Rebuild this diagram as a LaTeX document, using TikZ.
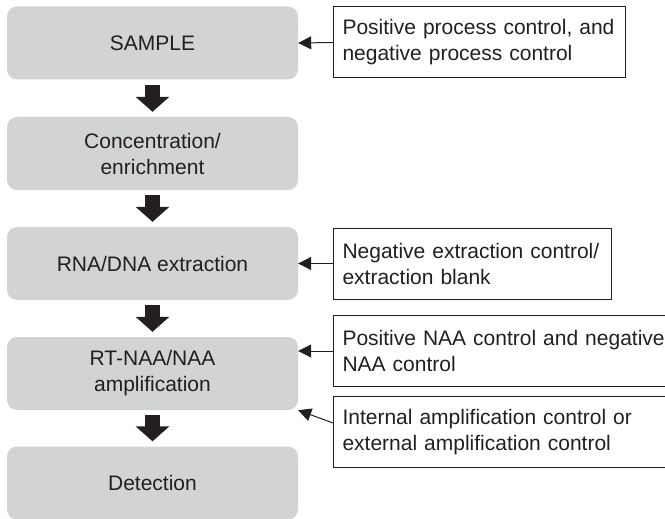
\documentclass[tikz,border=0pt]{standalone}
\usepackage{fontspec}
\setmainfont{Liberation Sans}
\usetikzlibrary{arrows.meta}
\definecolor{boxgray}{RGB}{209,211,212}
\definecolor{ink}{RGB}{35,31,32}
\tikzset{
  stage/.style={fill=boxgray, rounded corners=10pt, minimum width=291pt, minimum height=73pt, align=center, text=ink, font=\fontsize{21}{26}\selectfont},
  ctrl/.style={draw=ink, line width=1pt, anchor=west, align=left, minimum height=71pt, inner xsep=9pt, text=ink, font=\fontsize{21}{26}\selectfont},
  flow/.style={ink, line width=15pt, -{Triangle[length=15pt,width=33pt]}, shorten <=5pt, shorten >=5pt},
  feed/.style={ink, line width=1pt, -{Triangle[length=13pt,width=13pt]}}
}
\begin{document}
\begin{tikzpicture}[x=1pt,y=-1pt]
\useasboundingbox (0,0) rectangle (665,519);
\clip (0,0) rectangle (665,519);
\node[stage] (sample) at (152.5,43) {SAMPLE};
\node[stage] (conc) at (152.5,153.5) {Concentration/\\enrichment};
\node[stage] (extr) at (152.5,263.5) {RNA/DNA extraction};
\node[stage] (ampl) at (152.5,373.5) {RT-NAA/NAA\\amplification};
\node[stage] (detect) at (152.5,483) {Detection};
\draw[flow] (sample) -- (conc);
\draw[flow] (conc) -- (extr);
\draw[flow] (extr) -- (ampl);
\draw[flow] (ampl) -- (detect);
\node[ctrl, text width=274pt] (procctrl) at (333,42.5) {Positive process control, and\\negative process control};
\node[ctrl, text width=260pt] (extrctrl) at (333,263.5) {Negative extraction control/\\extraction blank};
\node[ctrl, text width=350pt] (naactrl) at (333,351) {Positive NAA control and negative\\NAA control};
\node[ctrl, text width=350pt] (iacctrl) at (333,432) {Internal amplification control or\\external amplification control};
\draw[feed] (procctrl.west) -- (sample.east);
\draw[feed] (extrctrl.west) -- (extr.east);
\draw[feed] (naactrl.west) -- (naactrl.west -| ampl.east);
\draw[feed] ([yshift=9pt]iacctrl.west) -- (ampl.south east);
\end{tikzpicture}
\end{document}
